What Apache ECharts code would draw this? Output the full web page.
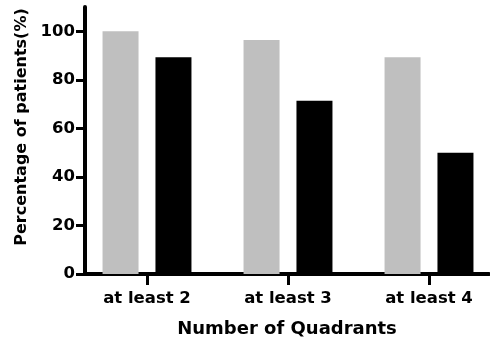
<!DOCTYPE html>
<html>
<head>
<meta charset="utf-8">
<script src="https://cdn.jsdelivr.net/npm/echarts@6/dist/echarts.min.js"></script>
<style>html,body{margin:0;padding:0;background:#fff}#c{width:490px;height:344px}</style>
</head>
<body>
<div id="c"></div>
<script>
var categories = ['at least 2', 'at least 3', 'at least 4'];
var seriesGray = [100, 96.4, 89.3];
var seriesBlack = [89.3, 71.4, 50];
var yTicks = [0, 20, 40, 60, 80, 100];
var xTitle = 'Number of Quadrants';
var yTitle = 'Percentage of patients(%)';

var FONT = 'DejaVu Sans';
var chart = echarts.init(document.getElementById('c'), null, {renderer: 'canvas'});
function pairs(arr){ return arr.map(function(v,i){ return [i, v]; }); }
chart.setOption({
  animation: false,
  grid: {left: 85, right: 1, top: 7, bottom: 70, containLabel: false},
  xAxis: {
    type: 'value', min: -0.4397, max: 2.4255,
    splitLine: {show: false},
    axisLine: {show: true, onZero: false, lineStyle: {color: '#000', width: 4}},
    axisTick: {show: true, customValues: [0, 1, 2], length: 11, lineStyle: {color: '#000', width: 3}},
    axisLabel: {show: true, customValues: [0, 1, 2], margin: 16, color: '#000', fontFamily: FONT, fontWeight: 'bold', fontSize: 16.5,
      formatter: function(v){ return categories[Math.round(v)] || ''; }},
    name: xTitle, nameLocation: 'middle', nameGap: 46,
    nameTextStyle: {color: '#000', fontFamily: FONT, fontWeight: 'bold', fontSize: 18}
  },
  yAxis: {
    type: 'value', min: 0, max: 110,
    splitLine: {show: false},
    axisLine: {show: true, onZero: false, lineStyle: {color: '#000', width: 4}},
    axisTick: {show: true, customValues: yTicks, length: 9, lineStyle: {color: '#000', width: 3}},
    axisLabel: {show: true, customValues: yTicks, margin: 10, color: '#000', fontFamily: FONT, fontWeight: 'bold', fontSize: 16.5}
  },
  graphic: [{
    type: 'text', x: 22, y: 127, rotation: Math.PI / 2,
    style: {text: yTitle, fill: '#000', font: 'bold 16px "DejaVu Sans"', align: 'center', verticalAlign: 'middle'}
  }],
  series: [
    {type: 'bar', data: pairs(seriesGray), barWidth: 36, barGap: '47%', itemStyle: {color: '#bfbfbf'}},
    {type: 'bar', data: pairs(seriesBlack), barWidth: 36, barGap: '47%', itemStyle: {color: '#000000'}}
  ]
});
</script>
</body>
</html>
